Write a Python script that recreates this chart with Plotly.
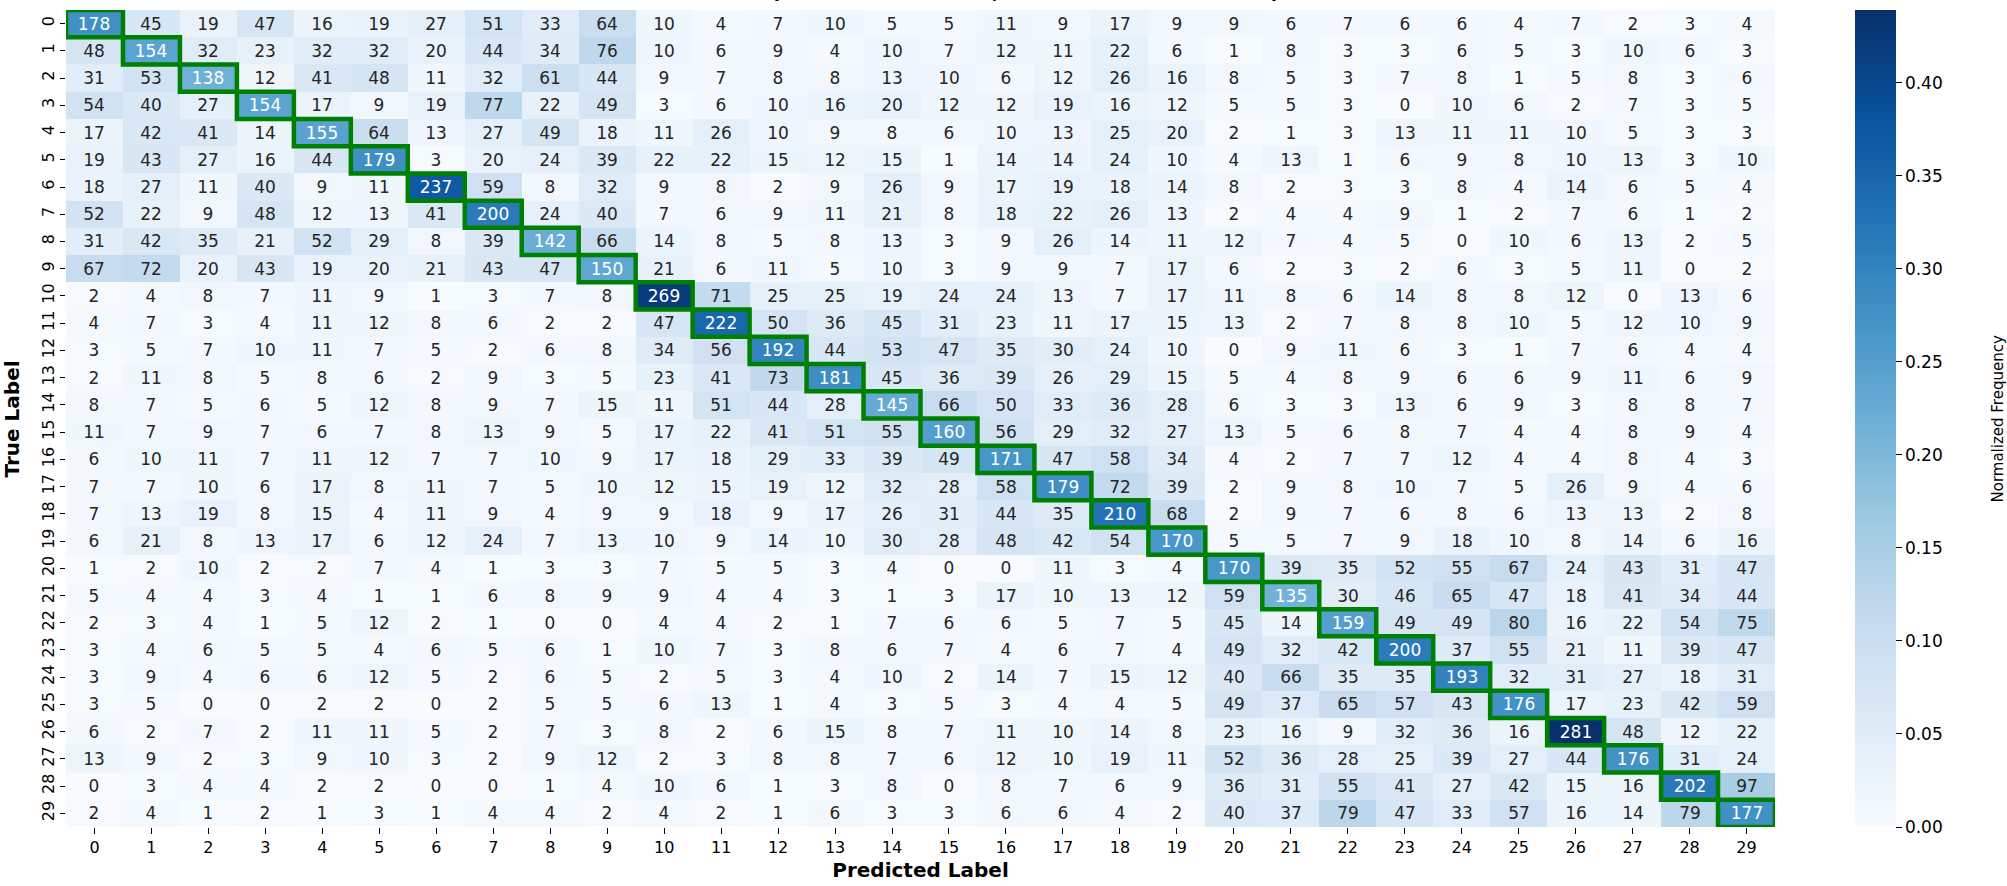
import numpy as np
import plotly.graph_objects as go

labels = list(range(30))
tick_text = [str(i) for i in labels]

counts = [
    [178, 45, 19, 47, 16, 19, 27, 51, 33, 64, 10, 4, 7, 10, 5, 5, 11, 9, 17, 9, 9, 6, 7, 6, 6, 4, 7, 2, 3, 4],
    [48, 154, 32, 23, 32, 32, 20, 44, 34, 76, 10, 6, 9, 4, 10, 7, 12, 11, 22, 6, 1, 8, 3, 3, 6, 5, 3, 10, 6, 3],
    [31, 53, 138, 12, 41, 48, 11, 32, 61, 44, 9, 7, 8, 8, 13, 10, 6, 12, 26, 16, 8, 5, 3, 7, 8, 1, 5, 8, 3, 6],
    [54, 40, 27, 154, 17, 9, 19, 77, 22, 49, 3, 6, 10, 16, 20, 12, 12, 19, 16, 12, 5, 5, 3, 0, 10, 6, 2, 7, 3, 5],
    [17, 42, 41, 14, 155, 64, 13, 27, 49, 18, 11, 26, 10, 9, 8, 6, 10, 13, 25, 20, 2, 1, 3, 13, 11, 11, 10, 5, 3, 3],
    [19, 43, 27, 16, 44, 179, 3, 20, 24, 39, 22, 22, 15, 12, 15, 1, 14, 14, 24, 10, 4, 13, 1, 6, 9, 8, 10, 13, 3, 10],
    [18, 27, 11, 40, 9, 11, 237, 59, 8, 32, 9, 8, 2, 9, 26, 9, 17, 19, 18, 14, 8, 2, 3, 3, 8, 4, 14, 6, 5, 4],
    [52, 22, 9, 48, 12, 13, 41, 200, 24, 40, 7, 6, 9, 11, 21, 8, 18, 22, 26, 13, 2, 4, 4, 9, 1, 2, 7, 6, 1, 2],
    [31, 42, 35, 21, 52, 29, 8, 39, 142, 66, 14, 8, 5, 8, 13, 3, 9, 26, 14, 11, 12, 7, 4, 5, 0, 10, 6, 13, 2, 5],
    [67, 72, 20, 43, 19, 20, 21, 43, 47, 150, 21, 6, 11, 5, 10, 3, 9, 9, 7, 17, 6, 2, 3, 2, 6, 3, 5, 11, 0, 2],
    [2, 4, 8, 7, 11, 9, 1, 3, 7, 8, 269, 71, 25, 25, 19, 24, 24, 13, 7, 17, 11, 8, 6, 14, 8, 8, 12, 0, 13, 6],
    [4, 7, 3, 4, 11, 12, 8, 6, 2, 2, 47, 222, 50, 36, 45, 31, 23, 11, 17, 15, 13, 2, 7, 8, 8, 10, 5, 12, 10, 9],
    [3, 5, 7, 10, 11, 7, 5, 2, 6, 8, 34, 56, 192, 44, 53, 47, 35, 30, 24, 10, 0, 9, 11, 6, 3, 1, 7, 6, 4, 4],
    [2, 11, 8, 5, 8, 6, 2, 9, 3, 5, 23, 41, 73, 181, 45, 36, 39, 26, 29, 15, 5, 4, 8, 9, 6, 6, 9, 11, 6, 9],
    [8, 7, 5, 6, 5, 12, 8, 9, 7, 15, 11, 51, 44, 28, 145, 66, 50, 33, 36, 28, 6, 3, 3, 13, 6, 9, 3, 8, 8, 7],
    [11, 7, 9, 7, 6, 7, 8, 13, 9, 5, 17, 22, 41, 51, 55, 160, 56, 29, 32, 27, 13, 5, 6, 8, 7, 4, 4, 8, 9, 4],
    [6, 10, 11, 7, 11, 12, 7, 7, 10, 9, 17, 18, 29, 33, 39, 49, 171, 47, 58, 34, 4, 2, 7, 7, 12, 4, 4, 8, 4, 3],
    [7, 7, 10, 6, 17, 8, 11, 7, 5, 10, 12, 15, 19, 12, 32, 28, 58, 179, 72, 39, 2, 9, 8, 10, 7, 5, 26, 9, 4, 6],
    [7, 13, 19, 8, 15, 4, 11, 9, 4, 9, 9, 18, 9, 17, 26, 31, 44, 35, 210, 68, 2, 9, 7, 6, 8, 6, 13, 13, 2, 8],
    [6, 21, 8, 13, 17, 6, 12, 24, 7, 13, 10, 9, 14, 10, 30, 28, 48, 42, 54, 170, 5, 5, 7, 9, 18, 10, 8, 14, 6, 16],
    [1, 2, 10, 2, 2, 7, 4, 1, 3, 3, 7, 5, 5, 3, 4, 0, 0, 11, 3, 4, 170, 39, 35, 52, 55, 67, 24, 43, 31, 47],
    [5, 4, 4, 3, 4, 1, 1, 6, 8, 9, 9, 4, 4, 3, 1, 3, 17, 10, 13, 12, 59, 135, 30, 46, 65, 47, 18, 41, 34, 44],
    [2, 3, 4, 1, 5, 12, 2, 1, 0, 0, 4, 4, 2, 1, 7, 6, 6, 5, 7, 5, 45, 14, 159, 49, 49, 80, 16, 22, 54, 75],
    [3, 4, 6, 5, 5, 4, 6, 5, 6, 1, 10, 7, 3, 8, 6, 7, 4, 6, 7, 4, 49, 32, 42, 200, 37, 55, 21, 11, 39, 47],
    [3, 9, 4, 6, 6, 12, 5, 2, 6, 5, 2, 5, 3, 4, 10, 2, 14, 7, 15, 12, 40, 66, 35, 35, 193, 32, 31, 27, 18, 31],
    [3, 5, 0, 0, 2, 2, 0, 2, 5, 5, 6, 13, 1, 4, 3, 5, 3, 4, 4, 5, 49, 37, 65, 57, 43, 176, 17, 23, 42, 59],
    [6, 2, 7, 2, 11, 11, 5, 2, 7, 3, 8, 2, 6, 15, 8, 7, 11, 10, 14, 8, 23, 16, 9, 32, 36, 16, 281, 48, 12, 22],
    [13, 9, 2, 3, 9, 10, 3, 2, 9, 12, 2, 3, 8, 8, 7, 6, 12, 10, 19, 11, 52, 36, 28, 25, 39, 27, 44, 176, 31, 24],
    [0, 3, 4, 4, 2, 2, 0, 0, 1, 4, 10, 6, 1, 3, 8, 0, 8, 7, 6, 9, 36, 31, 55, 41, 27, 42, 15, 16, 202, 97],
    [2, 4, 1, 2, 1, 3, 1, 4, 4, 2, 4, 2, 1, 6, 3, 3, 6, 6, 4, 2, 40, 37, 79, 47, 33, 57, 16, 14, 79, 177],
]

title_text = "Confusion Matrix (Counts annotated, colors row-normalized)"
x_title = "Predicted Label"
y_title = "True Label"
cbar_title = "Normalized Frequency"

# matplotlib "Blues"
blues = ['#f7fbff', '#deebf7', '#c6dbef', '#9ecae1', '#6baed6',
         '#4292c6', '#2171b5', '#08519c', '#08306b']
colorscale = [[i / (len(blues) - 1), c] for i, c in enumerate(blues)]

cm = np.array(counts, dtype=float)
norm = cm / cm.sum(axis=1, keepdims=True)
zmax = float(norm.max())


def hex_rgb(h):
    h = h.lstrip('#')
    return [int(h[i:i + 2], 16) / 255 for i in (0, 2, 4)]


stops = np.array([hex_rgb(c) for c in blues])


def lum(frac):
    pos = frac * (len(blues) - 1)
    i = min(int(np.floor(pos)), len(blues) - 2)
    t = pos - i
    rgb = stops[i] * (1 - t) + stops[i + 1] * t
    lin = np.where(rgb <= 0.03928, rgb / 12.92, ((rgb + 0.055) / 1.055) ** 2.4)
    return 0.2126 * lin[0] + 0.7152 * lin[1] + 0.0722 * lin[2]


n = len(labels)
dark_text = [["" for _ in range(n)] for _ in range(n)]
light_text = [["" for _ in range(n)] for _ in range(n)]
z_light = np.full((n, n), np.nan)
for r in range(n):
    for c in range(n):
        if lum(norm[r, c] / zmax) < 0.408:
            light_text[r][c] = str(counts[r][c])
            z_light[r, c] = norm[r, c]
        else:
            dark_text[r][c] = str(counts[r][c])

W, H = 2007, 886
L, R, T, B = 66, 2007 - 1775, 10, 886 - 827
plot_w = W - L - R


def px_x(p):
    return (p - L) / plot_w


fig = go.Figure()
fig.add_trace(go.Heatmap(
    z=norm, x=labels, y=labels, text=dark_text, texttemplate="%{text}",
    textfont=dict(family="DejaVu Sans", size=17, color="#262626"),
    colorscale=colorscale, zmin=0, zmax=zmax,
    colorbar=dict(
        x=px_x(1855), xanchor="left", xpad=0, y=0.5, len=1, lenmode="fraction",
        thickness=41, thicknessmode="pixels", outlinewidth=0, ypad=0,
        tickvals=[0, 0.05, 0.1, 0.15, 0.2, 0.25, 0.3, 0.35, 0.4], tickformat=".2f",
        ticks="outside", ticklen=6, tickwidth=1, tickcolor="#000",
        tickfont=dict(family="DejaVu Sans", size=17, color="#000"),
    ),
    hovertemplate="True %{y}<br>Pred %{x}<br>%{z:.3f}<extra></extra>",
))
fig.add_trace(go.Heatmap(
    z=z_light, x=labels, y=labels, text=light_text, texttemplate="%{text}",
    textfont=dict(family="DejaVu Sans", size=17, color="#ffffff"),
    colorscale=colorscale, zmin=0, zmax=zmax, showscale=False, hoverinfo="skip",
))

shapes = []
for i in labels:
    shapes.append(dict(type="rect", xref="x", yref="y",
                       x0=i - 0.5, x1=i + 0.5, y0=i - 0.5, y1=i + 0.5,
                       line=dict(color="green", width=4.5), fillcolor="rgba(0,0,0,0)"))

fig.update_layout(
    width=W, height=H, margin=dict(l=L, r=R, t=T, b=B, autoexpand=False),
    paper_bgcolor="white", plot_bgcolor="white",
    shapes=shapes,
    xaxis=dict(range=[-0.5, n - 0.5], tickvals=labels, ticktext=tick_text,
               ticks="outside", ticklen=6, tickwidth=1, tickcolor="#000",
               tickfont=dict(family="DejaVu Sans", size=16, color="#000"),
               showgrid=False, zeroline=False, showline=False,
               title=dict(text=x_title, standoff=6,
                          font=dict(family="DejaVu Sans", size=20, color="#000", weight="bold"))),
    yaxis=dict(range=[n - 0.5, -0.5], tickvals=labels, ticktext=tick_text, tickangle=-90,
               ticks="outside", ticklen=5, tickwidth=1, tickcolor="#000",
               tickfont=dict(family="DejaVu Sans", size=16, color="#000"),
               showgrid=False, zeroline=False, showline=False),
    annotations=[
        dict(text=title_text, x=0.5, y=1, xref="paper", yref="paper",
             xanchor="center", yanchor="bottom", yshift=5, showarrow=False,
             font=dict(family="DejaVu Sans", size=21, color="#000", weight="bold")),
        dict(text=y_title, x=px_x(11), y=0.5, xref="paper", yref="paper",
             xanchor="center", yanchor="middle", textangle=-90, showarrow=False,
             font=dict(family="DejaVu Sans", size=20, color="#000", weight="bold")),
        dict(text=cbar_title, x=px_x(1997), y=0.5, xref="paper", yref="paper",
             xanchor="center", yanchor="middle", textangle=-90, showarrow=False,
             font=dict(family="DejaVu Sans", size=15, color="#000")),
    ],
)

fig.write_html("out.html", config={"displayModeBar": False},
               post_script="document.body.style.margin='0';document.body.style.overflow='hidden';")
